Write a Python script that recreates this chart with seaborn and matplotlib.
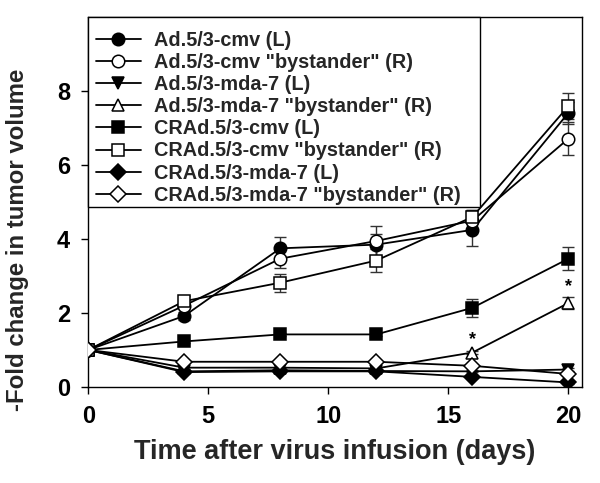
import matplotlib
matplotlib.use("Agg")
import matplotlib.pyplot as plt
import matplotlib.patches as mpatches
import seaborn as sns
import numpy as np
import pandas as pd

days = [0, 4, 8, 12, 16, 20]

labels = [
    'Ad.5/3-cmv (L)',
    'Ad.5/3-cmv "bystander" (R)',
    'Ad.5/3-mda-7 (L)',
    'Ad.5/3-mda-7 "bystander" (R)',
    'CRAd.5/3-cmv (L)',
    'CRAd.5/3-cmv "bystander" (R)',
    'CRAd.5/3-mda-7 (L)',
    'CRAd.5/3-mda-7 "bystander" (R)',
]

ad_cmv_L = [1.0, 1.92, 3.75, 3.85, 4.25, 7.42]
ad_cmv_R = [1.0, 2.20, 3.47, 3.95, 4.50, 6.72]
ad_mda_L = [1.0, 0.42, 0.45, 0.43, 0.42, 0.47]
ad_mda_R = [1.0, 0.52, 0.52, 0.50, 0.93, 2.27]
cr_cmv_L = [1.0, 1.23, 1.42, 1.42, 2.14, 3.47]
cr_cmv_R = [1.0, 2.32, 2.82, 3.42, 4.60, 7.60]
cr_mda_L = [1.0, 0.40, 0.42, 0.42, 0.27, 0.12]
cr_mda_R = [1.0, 0.68, 0.68, 0.68, 0.57, 0.35]

ad_cmv_L_err = [0.0, 0.10, 0.30, 0.30, 0.45, 0.30]
ad_cmv_R_err = [0.0, 0.10, 0.25, 0.40, 0.30, 0.45]
ad_mda_L_err = [0.0, 0.03, 0.03, 0.03, 0.03, 0.05]
ad_mda_R_err = [0.0, 0.03, 0.03, 0.03, 0.05, 0.15]
cr_cmv_L_err = [0.0, 0.05, 0.05, 0.05, 0.24, 0.32]
cr_cmv_R_err = [0.0, 0.15, 0.24, 0.30, 0.20, 0.35]
cr_mda_L_err = [0.0, 0.03, 0.03, 0.03, 0.03, 0.03]
cr_mda_R_err = [0.0, 0.03, 0.03, 0.03, 0.03, 0.03]

series = [ad_cmv_L, ad_cmv_R, ad_mda_L, ad_mda_R, cr_cmv_L, cr_cmv_R, cr_mda_L, cr_mda_R]
errors = [ad_cmv_L_err, ad_cmv_R_err, ad_mda_L_err, ad_mda_R_err,
          cr_cmv_L_err, cr_cmv_R_err, cr_mda_L_err, cr_mda_R_err]
markers = ['o', 'o', 'v', '^', 's', 's', 'D', 'D']
faces = ['black', 'white', 'black', 'white', 'black', 'white', 'black', 'white']
msizes = [9, 9, 9, 9, 9, 9, 8, 8.5]

# significance marks over the Ad.5/3-mda-7 "bystander" series
star_days = [16, 20]

sns.set_style("ticks")
plt.rcParams['font.family'] = ['Liberation Sans', 'DejaVu Sans']
plt.rcParams['font.weight'] = 'bold'

fig = plt.figure(figsize=(6.0, 4.83), dpi=100)
ax = fig.add_axes([0.147, 0.199, 0.8225, 0.765])

for lab, vals, err, m, fc, ms in zip(labels, series, errors, markers, faces, msizes):
    ax.errorbar(days, vals, yerr=err, fmt='none', ecolor='#333333',
                elinewidth=1.0, capsize=4.5, capthick=1.0, zorder=1)
    df = pd.DataFrame({'day': days, 'fold': vals})
    sns.lineplot(data=df, x='day', y='fold', ax=ax, label=lab,
                 color='black', linewidth=1.3, marker=m, markersize=ms,
                 markerfacecolor=fc, markeredgecolor='black',
                 markeredgewidth=1.1, zorder=3)

for d in star_days:
    i = days.index(d)
    ax.text(d, ad_mda_R[i] + ad_mda_R_err[i] + 0.3, '*', ha='center', va='center',
            fontsize=13, fontweight='bold', color='black')

ax.set_xlim(0, 20.55)
ax.set_ylim(0, 10)
ax.set_xticks([0, 5, 10, 15, 20])
ax.set_yticks([0, 2, 4, 6, 8])
ax.tick_params(axis='both', direction='out', length=5, width=1, labelsize=17, pad=8,
               colors='black')
for lbl in ax.get_xticklabels() + ax.get_yticklabels():
    lbl.set_fontweight('bold')
for s in ax.spines.values():
    s.set_visible(True)
    s.set_color('black')
    s.set_linewidth(1.0)

ax.set_xlabel('Time after virus infusion (days)', fontsize=19.5, fontweight='bold', labelpad=8)
ax.set_ylabel('-Fold change in tumor volume', fontsize=17.3, fontweight='bold')
ax.yaxis.set_label_coords(-0.12, 0.398)

# legend box (opaque white, black frame) in the upper-left corner
box = mpatches.Rectangle((0.0, 0.487), 0.794, 0.513, transform=ax.transAxes,
                         facecolor='white', edgecolor='black', linewidth=1.0,
                         zorder=4, clip_on=False)
ax.add_patch(box)

leg = ax.legend(loc='upper left', bbox_to_anchor=(0.0156, 0.963),
                borderaxespad=0, borderpad=0, fontsize=14.3, frameon=False,
                handlelength=2.25, handletextpad=0.7, labelspacing=0.155)
for t in leg.get_texts():
    t.set_fontweight('bold')
leg.set_zorder(5)

fig.savefig('out.png', dpi=100)
